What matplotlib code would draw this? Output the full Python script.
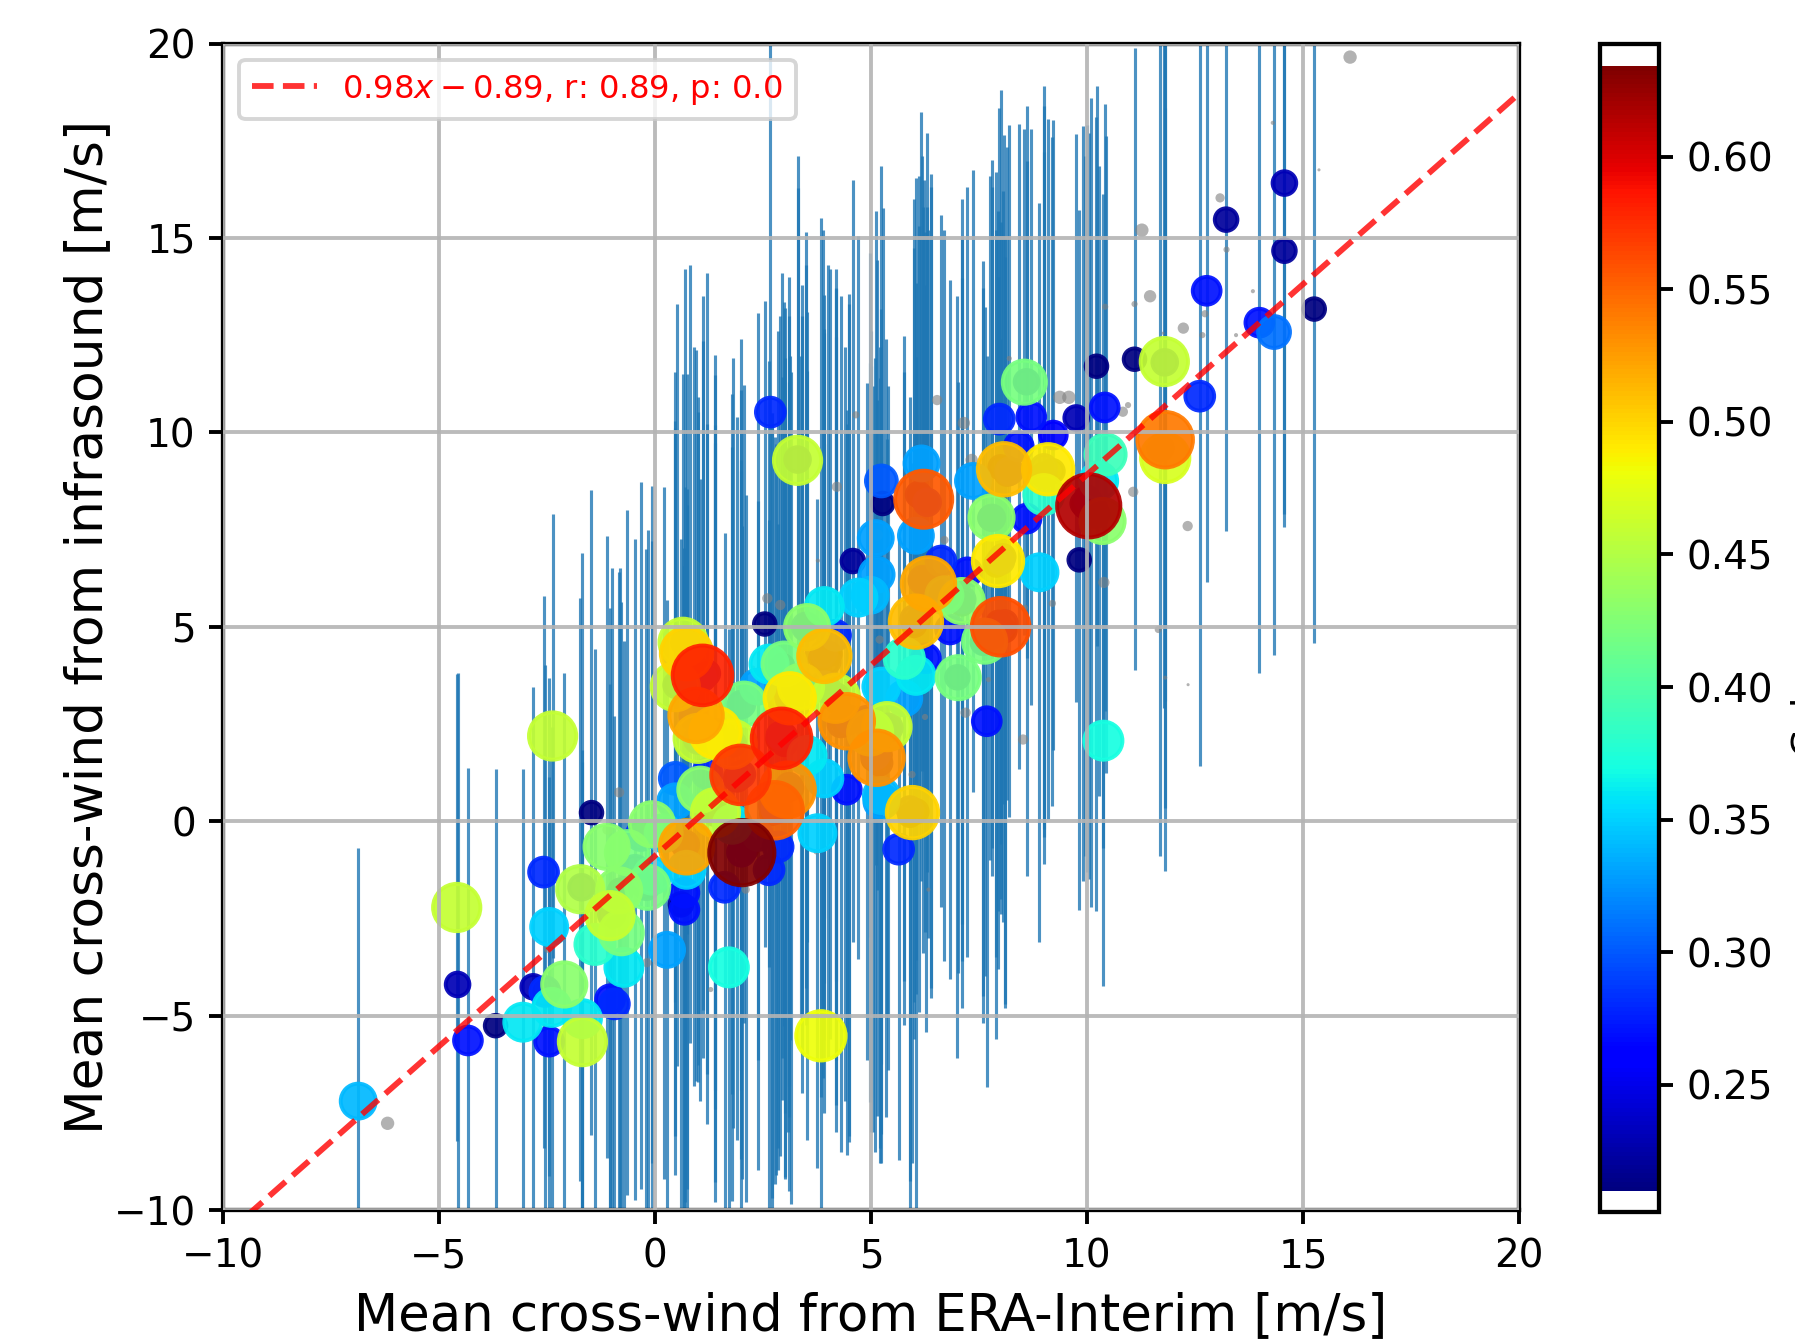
"""
Cross-wind comparison: infrasound estimate vs ERA-Interim.
Colour and marker size follow the coherence of each event; events
below the coherence threshold are shown in grey without error bars.
"""

import numpy as np
import matplotlib
matplotlib.use("Agg")
import matplotlib.pyplot as plt
from matplotlib.colors import Normalize

# ══════════════════════════════════════════════════════════════════
# DATA
# ══════════════════════════════════════════════════════════════════
# events above threshold: x = ERA-Interim, y = infrasound, coherence, 1-sigma
cw_era = [
    14.57, 13.22, 14.57, 15.26, 12.77, 13.99, 14.33, 12.61, 11.79, 11.10,
    10.22, 10.41, 11.81, 11.81, 10.43, 10.04, 10.36, 9.82, 8.90, 8.55,
    8.71, 7.97, 9.75, 9.22, 9.10, 8.08, 9.00, 8.60, 7.79, 7.94,
    8.00, 7.68, 10.38, 7.02, 6.22, 6.17, 6.33, 6.04, 5.77, 6.27,
    6.62, 5.13, 4.71, 5.27, 3.92, 2.67, 3.30, 2.54, 4.58, 4.44,
    5.13, 5.37, 5.96, 5.64, 3.76, 2.93, 3.07, 2.77, 1.98, 2.01,
    1.10, 0.95, 0.73, 0.65, 0.73, -2.37, -4.59, -1.73, -2.10, -1.68,
    -0.83, -1.04, -0.78, -1.39, -0.72, -0.17, -0.64, -3.06, -2.39, -1.68,
    -2.55, -2.82, -2.45, -3.69, -4.33, -4.57, -2.58, -2.45, -1.04, -0.94,
    -6.87, -1.47, 0.28, 1.71, 3.84, 0.68, 0.68, 1.61, -0.07, 0.73,
    0.20, 0.47, 1.05, 1.40, 2.64, 2.85, 4.44, 3.92, 3.52, 5.24,
    2.38, 2.06, 1.79, 3.38, 2.99, 2.64, 3.92, 4.18, 3.92, 5.11,
    5.24, 6.04, 6.70, 7.10, 6.83, 7.63, 7.23, 5.24, 6.04, 8.42,
    7.36, 9.90, 10.27, 3.12, 1.40, 1.00, 0.47, 0.47, -0.07, -0.33,
    -1.12, -0.46, 0.60, 1.79, 2.38, 4.18, 4.90, 4.98, 5.77, 1.21,
    3.52, 5.24, 4.98,
    11.70, 10.00, 10.20, 9.00, 8.20, 8.10, 7.90, 6.30, 6.10, 6.40,
    6.20, 6.00, 3.90, 4.00, 4.50, 4.30, 5.10, 5.20, 5.90, 2.90,
    3.00, 3.10, 2.80, 2.70, 2.00, 1.90, 2.00, 2.10, 1.10, 1.20,
    0.90, 0.80, 0.70, -1.70, -1.00, -0.20, 3.40, 3.10, 1.40, 1.00,
    0.50, 7.10, 7.60, 4.20, 5.00, 3.50, 1.40, 3.30, 8.00, 7.80,
    0.70, -0.80, 2.00, 1.80, 5.40, 8.60, 11.80,
    9.20, 9.00, 8.00, 8.15, 7.90, 8.05, 7.95, 8.10, 6.15, 6.30,
    6.25, 6.40, 6.00, 6.10, 3.85, 4.05, 4.40, 4.50, 5.05, 5.20,
    5.90, 6.05, 2.85, 3.00, 3.00, 3.15, 2.70, 3.10, 7.75, 7.00,
    5.35, 3.40, 2.95, 7.10, 7.60, 4.20, 5.00, 3.50, 9.95, 10.10,
]
cw_infra = [
    16.41, 15.47, 14.67, 13.17, 13.64, 12.82, 12.58, 10.93, 11.82, 11.88,
    11.70, 10.64, 9.81, 9.34, 9.43, 8.11, 7.72, 6.72, 6.40, 11.29,
    10.40, 10.34, 10.37, 9.93, 9.05, 9.05, 8.40, 7.78, 7.81, 6.69,
    5.00, 2.57, 2.07, 3.69, 8.28, 9.20, 6.10, 5.13, 4.19, 4.19,
    6.69, 6.34, 5.75, 8.17, 4.25, 10.52, 9.28, 5.07, 6.69, 2.57,
    1.63, 2.43, 0.22, -0.72, -0.31, 2.13, 0.81, 0.28, 1.19, -0.81,
    3.75, 2.72, 4.31, 4.60, -0.66, 2.19, -2.22, -1.75, -4.20, -5.67,
    -1.78, -2.43, -2.87, -3.17, -3.76, -1.70, -0.81, -5.17, -4.79, -5.08,
    -4.38, -4.26, -5.67, -5.26, -5.64, -4.20, -1.31, -2.72, -4.58, -4.70,
    -7.20, 0.22, -3.31, -3.76, -5.52, -2.28, -1.84, -1.70, -1.40, -1.25,
    -0.31, 1.10, 0.81, 0.22, -1.25, -0.66, 0.81, 1.10, 1.69, 0.66,
    3.46, 3.01, 1.98, 3.46, 4.04, 4.04, 3.46, 4.78, 5.52, 7.28,
    3.46, 3.75, 5.81, 5.66, 4.93, 4.63, 6.40, 8.75, 7.34, 9.64,
    8.75, 8.17, 8.75, 3.16, 2.28, 2.13, 3.46, 0.51, -0.08, -0.37,
    -0.66, -1.25, -2.14, -0.08, -0.37, 3.16, 2.57, 2.28, 3.16, 1.22,
    4.99, 0.51, 5.81,
    9.60, 8.30, 7.90, 9.10, 9.00, 5.10, 4.80, 8.20, 8.40, 6.00,
    6.20, 5.20, 4.30, 4.10, 2.60, 2.50, 1.70, 1.50, 0.30, 2.20,
    2.00, 0.90, 0.30, 0.40, 1.20, 1.10, -0.80, -0.70, 3.70, 3.80,
    2.70, 4.30, -0.60, -1.70, -2.40, -1.70, 3.50, 3.20, 2.30, 2.10,
    3.50, 5.70, 4.60, 3.20, 2.30, 5.00, 0.20, 9.30, 6.70, 7.80,
    4.60, -1.80, 3.00, 2.00, 2.40, 11.30, 11.80,
    9.00, 8.90, 9.10, 8.95, 6.60, 6.80, 5.10, 4.90, 8.35, 8.20,
    6.15, 6.05, 5.05, 5.20, 4.20, 4.30, 2.50, 2.65, 1.60, 1.70,
    0.15, 0.25, 2.10, 2.20, 0.75, 0.85, 0.20, 3.10, 7.80, 3.70,
    2.40, 3.40, 4.00, 5.60, 4.60, 3.10, 2.30, 4.95, 8.10, 8.20,
]
coherence = [
    0.23, 0.22, 0.22, 0.21, 0.27, 0.27, 0.31, 0.28, 0.46, 0.21,
    0.21, 0.27, 0.54, 0.47, 0.39, 0.615, 0.43, 0.21, 0.35, 0.42,
    0.27, 0.28, 0.23, 0.26, 0.49, 0.51, 0.38, 0.27, 0.43, 0.49,
    0.56, 0.27, 0.37, 0.42, 0.555, 0.33, 0.52, 0.51, 0.38, 0.27,
    0.28, 0.33, 0.35, 0.21, 0.51, 0.28, 0.46, 0.21, 0.22, 0.53,
    0.53, 0.46, 0.50, 0.28, 0.35, 0.58, 0.53, 0.55, 0.57, 0.634,
    0.58, 0.52, 0.50, 0.46, 0.52, 0.46, 0.46, 0.45, 0.43, 0.46,
    0.43, 0.46, 0.42, 0.38, 0.36, 0.42, 0.42, 0.36, 0.36, 0.36,
    0.28, 0.23, 0.27, 0.21, 0.27, 0.23, 0.28, 0.35, 0.27, 0.28,
    0.34, 0.21, 0.33, 0.37, 0.48, 0.27, 0.27, 0.28, 0.35, 0.35,
    0.35, 0.30, 0.43, 0.46, 0.28, 0.28, 0.27, 0.35, 0.36, 0.34,
    0.33, 0.42, 0.46, 0.43, 0.42, 0.36, 0.28, 0.28, 0.36, 0.33,
    0.35, 0.36, 0.35, 0.43, 0.27, 0.42, 0.27, 0.30, 0.33, 0.27,
    0.33, 0.22, 0.36, 0.49, 0.49, 0.46, 0.46, 0.33, 0.43, 0.28,
    0.43, 0.27, 0.22, 0.36, 0.28, 0.46, 0.28, 0.43, 0.33, 0.28,
    0.43, 0.33, 0.34,
    0.24, 0.23, 0.25, 0.24, 0.25, 0.23, 0.24, 0.25, 0.23, 0.24,
    0.26, 0.25, 0.24, 0.23, 0.25, 0.24, 0.26, 0.23, 0.24, 0.25,
    0.23, 0.24, 0.26, 0.23, 0.25, 0.24, 0.26, 0.23, 0.25, 0.24,
    0.26, 0.23, 0.25, 0.24, 0.25, 0.23, 0.24, 0.25, 0.23, 0.26,
    0.24, 0.25, 0.23, 0.24, 0.25, 0.26, 0.23, 0.24, 0.25, 0.24,
    0.26, 0.23, 0.25, 0.24, 0.26, 0.23, 0.24,
    0.22, 0.23, 0.22, 0.23, 0.22, 0.23, 0.22, 0.21, 0.22, 0.21,
    0.22, 0.23, 0.22, 0.21, 0.22, 0.21, 0.22, 0.23, 0.21, 0.22,
    0.21, 0.22, 0.21, 0.22, 0.21, 0.22, 0.21, 0.22, 0.21, 0.22,
    0.21, 0.22, 0.21, 0.22, 0.21, 0.22, 0.21, 0.22, 0.22, 0.21,
]
cw_err = [
    8.5, 8.0, 7.1, 8.6, 7.5, 9.0, 8.3, 9.5, 8.9, 8.0,
    7.2, 7.8, 11.1, 9.0, 8.2, 9.6, 8.4, 9.0, 9.5, 6.5,
    7.4, 8.0, 7.3, 8.1, 9.0, 8.6, 8.8, 9.2, 8.5, 9.0,
    7.4, 9.4, 6.3, 7.6, 8.2, 7.9, 9.1, 8.7, 8.3, 9.6,
    8.9, 8.1, 9.3, 7.6, 8.4, 10.2, 7.0, 8.3, 9.8, 8.0,
    9.2, 7.4, 9.0, 8.0, 8.6, 9.3, 8.8, 9.6, 8.1, 8.4,
    8.6, 9.4, 7.2, 6.9, 8.8, 5.7, 6.0, 7.5, 8.0, 7.2,
    8.2, 7.9, 8.5, 7.6, 8.4, 9.2, 8.8, 6.5, 7.2, 6.9,
    8.4, 7.7, 6.8, 6.6, 7.0, 8.0, 7.1, 6.4, 8.1, 7.4,
    6.5, 8.3, 9.0, 8.7, 5.5, 9.3, 8.4, 9.1, 8.6, 9.8,
    8.9, 9.2, 8.0, 9.5, 9.0, 8.3, 9.4, 8.6, 9.9, 8.7,
    9.6, 8.2, 9.0, 8.5, 9.3, 7.8, 9.1, 8.9, 8.0, 8.4,
    9.7, 8.2, 9.4, 8.3, 9.0, 8.6, 9.9, 8.1, 9.2, 8.3,
    8.0, 9.7, 8.1, 8.8, 9.2, 8.4, 8.1, 9.6, 8.7, 9.1,
    8.0, 8.5, 9.4, 9.7, 8.6, 9.3, 8.7, 9.5, 8.4, 9.0,
    8.1, 9.3, 8.8,
    10.5, 9.6, 10.2, 9.3, 8.9, 9.9, 10.4, 9.5, 8.2, 10.3,
    9.6, 10.8, 10.9, 10.2, 10.7, 11.0, 10.2, 9.9, 10.6, 10.8,
    11.2, 10.4, 9.4, 10.1, 9.9, 9.3, 9.8, 9.1, 9.8, 10.3,
    9.5, 10.0, 9.2, 8.6, 8.9, 8.7, 9.5, 10.8, 9.7, 8.8,
    9.8, 9.3, 9.1, 10.5, 9.4, 9.3, 10.0, 7.8, 8.7, 9.2,
    9.6, 8.3, 9.4, 9.9, 8.8, 7.1, 8.7,
    8.6, 10.0, 9.7, 8.4, 10.1, 9.4, 8.9, 9.6, 9.9, 7.6,
    9.0, 10.6, 9.7, 10.1, 11.3, 9.9, 9.7, 10.9, 9.6, 10.5,
    9.4, 10.2, 10.5, 9.7, 9.9, 10.7, 10.3, 9.9, 8.8, 9.8,
    10.0, 10.4, 10.1, 10.4, 9.8, 11.1, 10.3, 10.2, 9.0, 10.4,
]

# events below threshold (no error bars)
low_era = [
    16.09, 14.30, 15.37, 13.08, 13.23, 11.27, 11.46, 12.23, 13.84, 13.45,
    12.73, 12.67, 11.10, 10.42, 11.07, 12.33, 10.39, 10.83, 10.95, 9.37,
    9.58, 8.20, 9.20, 8.56, 11.76, 6.53, 7.15, 7.33, 4.21, 4.65,
    5.15, 6.70, 3.77, 2.60, 2.90, 2.27, 7.19, 8.52, 5.95, 7.72,
    6.25, 5.20, -0.83, -1.10, -0.19, -6.19, -2.48, 3.73, 6.33, 1.29,
    2.10, 11.65, 11.81, 12.34,
]
low_infra = [
    19.65, 17.96, 16.75, 16.03, 14.70, 15.20, 13.50, 12.68, 13.63, 12.50,
    13.05, 12.50, 13.30, 13.23, 8.47, 7.59, 6.14, 10.53, 10.70, 10.90,
    10.90, 11.90, 5.60, 5.49, 12.55, 10.83, 10.24, 9.29, 8.60, 10.45,
    7.36, 7.23, 6.70, 5.73, 5.56, 3.95, 2.79, 2.10, 1.20, 3.64,
    2.68, 4.67, 0.74, -0.22, -3.64, -7.77, -3.28, -0.79, -1.76, -4.33,
    -1.76, 4.93, 3.69, 3.51,
]
low_coh = [
    0.13, 0.04, 0.03, 0.09, 0.06, 0.13, 0.12, 0.11, 0.04, 0.04,
    0.07, 0.06, 0.06, 0.06, 0.10, 0.10, 0.11, 0.10, 0.06, 0.13,
    0.13, 0.05, 0.07, 0.06, 0.03, 0.10, 0.12, 0.12, 0.10, 0.07,
    0.11, 0.08, 0.04, 0.10, 0.10, 0.04, 0.10, 0.10, 0.07, 0.05,
    0.06, 0.08, 0.10, 0.10, 0.09, 0.13, 0.08, 0.05, 0.04, 0.05,
    0.08, 0.07, 0.04, 0.03,
]

# linear fit shown in the legend
FIT_SLOPE = 0.98
FIT_ICPT  = -0.89
FIT_LABEL = r"$0.98x - 0.89$, r: 0.89, p: 0.0"

# ══════════════════════════════════════════════════════════════════
# PLOT
# ══════════════════════════════════════════════════════════════════
x   = np.array(cw_era)
y   = np.array(cw_infra)
c   = np.array(coherence)
err = np.array(cw_err)

SIZE_K = 700.0          # marker area scales with coherence squared

fig = plt.figure(figsize=(1795 / 280, 1342 / 280), dpi=280)
ax  = fig.add_axes([223 / 1795, 132 / 1342, 1296 / 1795, 1166.5 / 1342])
cax = fig.add_axes([1600 / 1795, 130 / 1342, 59 / 1795, 1168.5 / 1342])

ax.errorbar(x, y, yerr=err, fmt="none", ecolor="C0", elinewidth=0.8,
            alpha=0.8, zorder=1)

ax.scatter(low_era, low_infra, s=SIZE_K * np.array(low_coh) ** 2,
           color="grey", alpha=0.6, lw=0, zorder=1.5)

order = np.argsort(c, kind="stable")
norm  = Normalize(vmin=c.min(), vmax=c.max())
sc = ax.scatter(x[order], y[order], c=c[order], s=SIZE_K * c[order] ** 2,
                cmap="jet", norm=norm, alpha=0.92, zorder=2)

xf = np.array([-10, 20])
ax.plot(xf, FIT_SLOPE * xf + FIT_ICPT, "--", color="red", alpha=0.8,
        lw=1.5, label=FIT_LABEL, zorder=3)

ax.set_xlim(-10, 20)
ax.set_ylim(-10, 20)
ax.set_xticks(np.arange(-10, 21, 5))
ax.set_yticks(np.arange(-10, 21, 5))
ax.set_axisbelow(False)
ax.grid(True, color="#b4b4b4", lw=1.0, alpha=0.9)
for sp in ax.spines.values():
    sp.set_linewidth(1.1)
ax.tick_params(labelsize=10, width=1.0)

ax.set_xlabel("Mean cross-wind from ERA-Interim [m/s]", fontsize=13.2)
ax.set_ylabel("Mean cross-wind from infrasound [m/s]", fontsize=13.3,
              labelpad=0)
ax.legend(loc="upper left", fontsize=8.3, labelcolor="red")

cbar = fig.colorbar(sc, cax=cax)
cbar.solids.set_alpha(1)
cbar.ax.set_ylim(0.2021, 0.6426)
cbar.set_ticks([0.25, 0.30, 0.35, 0.40, 0.45, 0.50, 0.55, 0.60])
cbar.ax.tick_params(labelsize=10, width=1.0)
cbar.outline.set_linewidth(1.1)
cbar.set_label("Coherence", fontsize=10)
cbar.ax.yaxis.label.set_y(0.48)

fig.savefig("out.png", dpi=280)
